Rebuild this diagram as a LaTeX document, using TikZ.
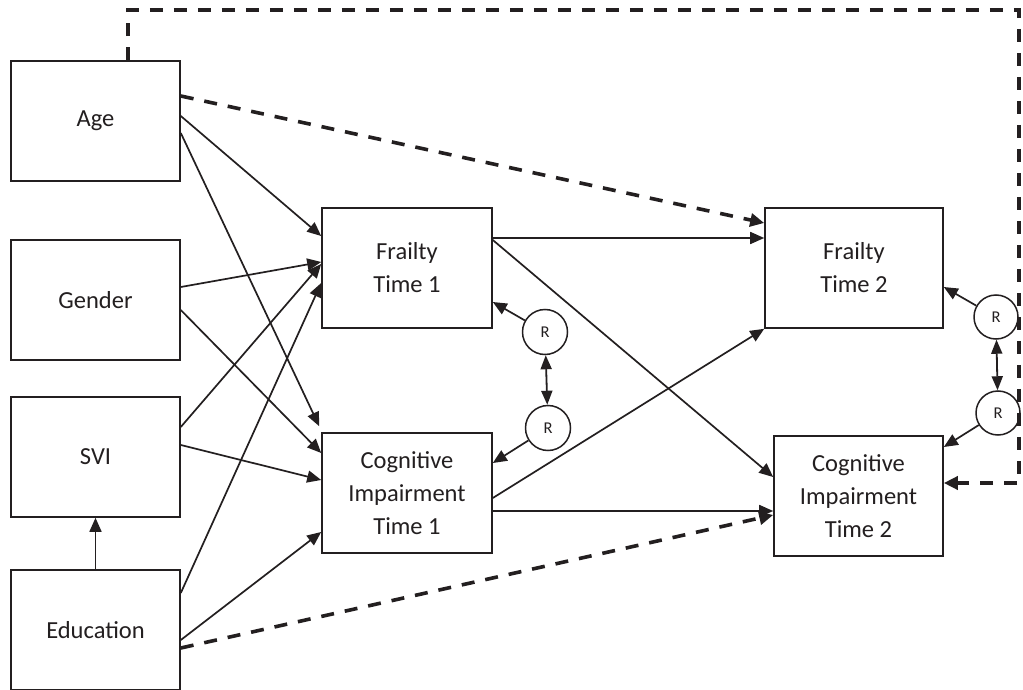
\documentclass[tikz,border=0pt]{standalone}
\usepackage{fontspec}
\setmainfont{Carlito}
\usetikzlibrary{arrows.meta}
\definecolor{ink}{RGB}{35,31,32}
\begin{document}
\begin{tikzpicture}[x=1pt,y=-1pt,
  box/.style={draw=ink,line width=1.6pt,fill=white,minimum width=169pt,minimum height=120pt,inner sep=0pt,align=center,font=\fontsize{24.5}{33}\selectfont,text=ink},
  rc/.style={draw=ink,line width=1.5pt,circle,minimum size=45pt,inner sep=0pt,font=\fontsize{16.5}{18}\selectfont,text=ink},
  arr/.style={draw=ink,line width=1.7pt,-{Triangle[length=14pt,width=12pt]}},
  darr/.style={draw=ink,line width=3.6pt,dash pattern=on 13pt off 11pt,-{Triangle[length=14pt,width=13pt]}},
  barr/.style={draw=ink,line width=1.8pt,{Triangle[length=14pt,width=11pt]}-{Triangle[length=14pt,width=11pt]}}
  ]
\useasboundingbox[fill=white] (0,0) rectangle (1023,690);

% left column
\node[box] (age) at (95.5,121) {Age};
\node[box] (gender) at (95.5,300) {Gender};
\node[box] (svi) at (95.5,457) {SVI};
\node[box] (edu) at (95.5,630) {Education};

% time 1
\node[box,minimum width=170pt] (f1) at (407,268) {Frailty\\Time 1};
\node[box,minimum width=170pt] (c1) at (407,493) {Cognitive\\Impairment\\Time 1};

% time 2
\node[box,minimum width=178pt] (f2) at (854,268) {Frailty\\Time 2};
\node[box] (c2) at (858.5,496) {Cognitive\\Impairment\\Time 2};

% residuals
\node[rc] (r1) at (545,332) {R};
\node[rc] (r2) at (548,428) {R};
\node[rc,minimum size=44pt] (r3) at (996,317) {R};
\node[rc,minimum size=44pt] (r4) at (998,413) {R};

% outer dashed path corners
\coordinate (tl) at (128,10);
\coordinate (tr) at (1019,10);
\coordinate (br) at (1019,483);

% Age
\draw[darr] ([yshift=25pt]age.east) -- ([yshift=45pt]f2.west);
\draw[arr] ([yshift=5pt]age.east) -- ([yshift=32pt]f1.west);
\draw[arr] ([yshift=-12pt]age.east) -- ([xshift=-2pt,yshift=6pt]c1.north west);

% Gender
\draw[arr] ([yshift=13pt]gender.east) -- ([yshift=6pt]f1.west);
\draw[arr] ([yshift=-10pt]gender.east) -- ([yshift=40pt]c1.west);

% SVI
\draw[arr] ([yshift=30pt]svi.east) -- ([yshift=4pt]f1.west);
\draw[arr] ([yshift=12pt]svi.east) -- ([yshift=13pt]c1.west);

% Education
\draw[arr] (edu.north) -- (svi.south);
\draw[arr] ([yshift=37pt]edu.east) -- ([yshift=-15pt]f1.west);
\draw[arr] ([yshift=-10pt]edu.east) -- ([yshift=-39pt]c1.west);
\draw[darr] ([yshift=-18pt]edu.east) -- ([yshift=-19pt]c2.west);

% cross-lagged
\draw[arr] ([yshift=30pt]f1.east) -- ([yshift=30pt]f2.west);
\draw[arr] ([yshift=28pt]f1.east) -- ([yshift=19pt]c2.west);
\draw[arr] ([yshift=-5pt]c1.east) -- (f2.south west);
\draw[arr] ([yshift=-18pt]c1.east) -- ([yshift=-15pt]c2.west);

% residuals
\draw[arr] (r1) -- ([yshift=-34pt]f1.east);
\draw[arr] (r2) -- ([yshift=30pt]c1.east);
\draw[barr] (r1) -- (r2);
\draw[arr] (r3) -- ([yshift=-19pt]f2.east);
\draw[arr] (r4) -- ([yshift=49pt]c2.east);
\draw[barr] (r3) -- (r4);

% outer dashed loop from Age to CI Time 2
\draw[darr] ([xshift=32.5pt]age.north) -- (tl) -- (tr) -- (br) -- ([yshift=13pt]c2.east);
\end{tikzpicture}
\end{document}
